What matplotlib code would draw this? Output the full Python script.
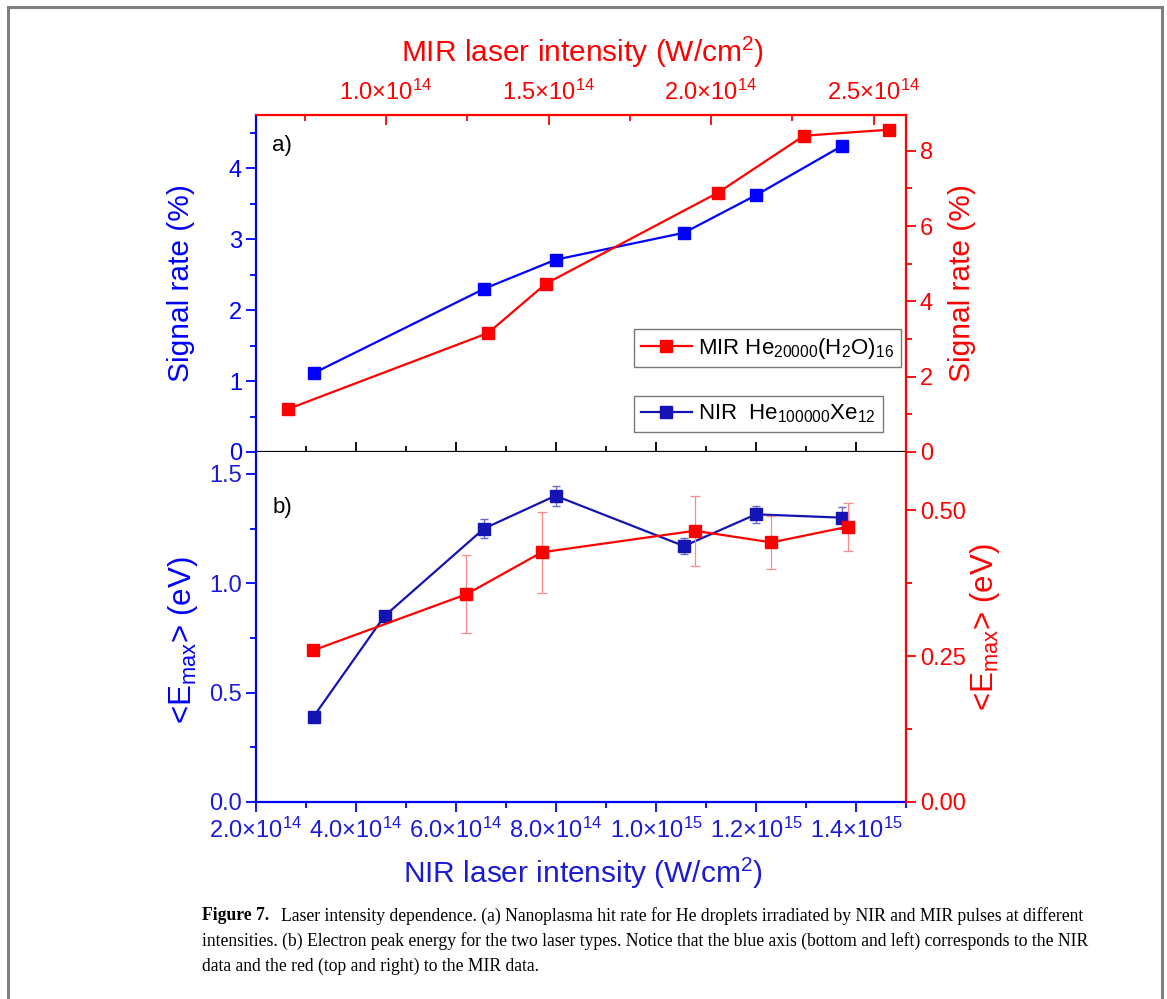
import numpy as np
import matplotlib
matplotlib.use("Agg")
import matplotlib.pyplot as plt
from matplotlib.patches import Rectangle
from matplotlib.lines import Line2D
from matplotlib.ticker import MultipleLocator, FuncFormatter, FormatStrFormatter

# ---------------- data ----------------
# panel a) signal rate
nir_a_x = [3.15e14, 6.56e14, 7.99e14, 1.056e15, 1.200e15, 1.371e15]
nir_a_y = [1.11, 2.30, 2.71, 3.09, 3.62, 4.31]
mir_a_x = [0.698e14, 1.314e14, 1.492e14, 2.022e14, 2.286e14, 2.548e14]
mir_a_y = [1.14, 3.16, 4.47, 6.89, 8.40, 8.56]
# panel b) electron peak energy
nir_b_x = [3.15e14, 4.57e14, 6.56e14, 7.99e14, 1.056e15, 1.200e15, 1.371e15]
nir_b_y = [0.39, 0.85, 1.25, 1.40, 1.17, 1.315, 1.30]
nir_b_err = [0.02, 0.023, 0.045, 0.045, 0.035, 0.04, 0.05]
mir_b_x = [0.776e14, 1.247e14, 1.479e14, 1.950e14, 2.186e14, 2.422e14]
mir_b_y = [0.260, 0.356, 0.428, 0.465, 0.445, 0.472]
mir_b_err = [0.0, 0.067, 0.069, 0.060, 0.046, 0.041]

legend_mir = r"MIR He$_{20000}$(H$_2$O)$_{16}$"
legend_nir = r"NIR  He$_{100000}$Xe$_{12}$"
caption_bold = "Figure 7."
caption_lines = [
    "Laser intensity dependence. (a) Nanoplasma hit rate for He droplets irradiated by NIR and MIR pulses at different",
    "intensities. (b) Electron peak energy for the two laser types. Notice that the blue axis (bottom and left) corresponds to the NIR",
    "data and the red (top and right) to the MIR data.",
]

# ---------------- style ----------------
plt.rcParams["font.family"] = ["Liberation Sans", "DejaVu Sans"]
plt.rcParams["mathtext.fontset"] = "custom"
plt.rcParams["mathtext.rm"] = "Liberation Sans"
plt.rcParams["mathtext.it"] = "Liberation Sans:italic"
plt.rcParams["mathtext.bf"] = "Liberation Sans:bold"
plt.rcParams["mathtext.default"] = "regular"

BLUE = "#0000ff"
BLUE_D = "#1414b4"
BLUE_T = "#1a1ad8"
RED = "#ff0000"
W, H = 1167, 999
fig = plt.figure(figsize=(W / 100, H / 100), dpi=100)

def px(x0, y0, x1, y1):
    return [x0 / W, 1 - y1 / H, (x1 - x0) / W, (y1 - y0) / H]

rectA = px(256, 115, 906, 452)
rectB = px(256, 452, 906, 802)

TL = 17
def sci(v, pos):
    if v <= 0:
        return ""
    e = int(np.floor(np.log10(v) + 1e-9))
    m = v / 10 ** e
    return r"$%.1f{\times}10^{%d}$" % (m, e)

SPW = 1.6
# ---------- panel a ----------
axA = fig.add_axes(rectA)
axA.set_xlim(2e14, 1.5e15)
axA.set_ylim(0, 4.75)
axA.plot(nir_a_x, nir_a_y, color=BLUE, lw=1.6, marker="s", ms=8, zorder=3)
for s in ("top", "right"):
    axA.spines[s].set_visible(False)
axA.spines["left"].set_color(BLUE)
axA.spines["bottom"].set_color("black")
for s in ("left", "bottom"):
    axA.spines[s].set_linewidth(SPW)
axA.xaxis.set_major_locator(MultipleLocator(2e14))
axA.xaxis.set_minor_locator(MultipleLocator(1e14))
axA.tick_params(axis="x", which="both", direction="in", colors="black", labelbottom=False,
                length=7, width=1.3)
axA.tick_params(axis="x", which="minor", length=4)
axA.yaxis.set_major_locator(MultipleLocator(1))
axA.yaxis.set_minor_locator(MultipleLocator(0.5))
axA.tick_params(axis="y", which="both", direction="out", colors=BLUE, labelsize=TL, width=1.3, pad=3)
axA.tick_params(axis="y", which="major", length=7)
axA.tick_params(axis="y", which="minor", length=4)
axA.text(0.025, 0.91, "a)", transform=axA.transAxes, fontsize=16, va="center", ha="left")

axAm = fig.add_axes(rectA, facecolor="none")
axAm.set_xlim(0.6e14, 2.6e14)
axAm.set_ylim(0, 8.95)
axAm.plot(mir_a_x, mir_a_y, color=RED, lw=1.6, marker="s", ms=8, zorder=3)
for s in ("left", "bottom"):
    axAm.spines[s].set_visible(False)
for s in ("top", "right"):
    axAm.spines[s].set_color(RED)
    axAm.spines[s].set_linewidth(SPW)
axAm.xaxis.tick_top()
axAm.yaxis.tick_right()
axAm.xaxis.set_major_locator(MultipleLocator(0.5e14))
axAm.xaxis.set_minor_locator(MultipleLocator(0.25e14))
axAm.xaxis.set_major_formatter(FuncFormatter(sci))
axAm.tick_params(axis="x", which="both", direction="in", colors=RED, labelsize=TL, width=1.3, pad=7)
axAm.tick_params(axis="x", which="major", length=7)
axAm.tick_params(axis="x", which="minor", length=4)
axAm.yaxis.set_major_locator(MultipleLocator(2))
axAm.yaxis.set_minor_locator(MultipleLocator(1))
axAm.tick_params(axis="y", which="both", direction="out", colors=RED, labelsize=TL, width=1.3, pad=3)
axAm.tick_params(axis="y", which="major", length=7)
axAm.tick_params(axis="y", which="minor", length=4)

# legends
hm = Line2D([], [], color=RED, lw=1.6, marker="s", ms=8)
hn = Line2D([], [], color=BLUE_D, lw=1.6, marker="s", ms=8)
legkw = dict(loc="upper left", bbox_transform=fig.transFigure, frameon=True, fancybox=False,
             edgecolor="#7a7a7a", fontsize=16, borderpad=0.3, handlelength=2.3,
             handletextpad=0.3, borderaxespad=0, numpoints=1, framealpha=1)
lg1 = fig.legend([hm], [legend_mir], bbox_to_anchor=(634 / W, 1 - 329 / H), **legkw)
lg2 = fig.legend([hn], [legend_nir], bbox_to_anchor=(634 / W, 1 - 396 / H), **legkw)
for lg in (lg1, lg2):
    lg.get_frame().set_linewidth(1.0)

# ---------- panel b ----------
axB = fig.add_axes(rectB)
axB.set_xlim(2e14, 1.5e15)
axB.set_ylim(0, 1.6)
axB.errorbar(nir_b_x, nir_b_y, yerr=nir_b_err, fmt="none", ecolor="#6a6ad0", elinewidth=1.0,
             capsize=3, capthick=1.0, zorder=2)
axB.plot(nir_b_x, nir_b_y, color=BLUE_D, lw=1.6, marker="s", ms=8.5, zorder=3)
for s in ("top", "right"):
    axB.spines[s].set_visible(False)
for s in ("left", "bottom"):
    axB.spines[s].set_color(BLUE)
    axB.spines[s].set_linewidth(SPW)
axB.xaxis.set_major_locator(MultipleLocator(2e14))
axB.xaxis.set_minor_locator(MultipleLocator(1e14))
axB.xaxis.set_major_formatter(FuncFormatter(sci))
axB.tick_params(axis="x", which="both", direction="out", colors=BLUE, labelcolor=BLUE_T,
                labelsize=TL, width=1.3, pad=4)
axB.tick_params(axis="x", which="major", length=7)
axB.tick_params(axis="x", which="minor", length=4)
axB.yaxis.set_major_locator(MultipleLocator(0.5))
axB.yaxis.set_minor_locator(MultipleLocator(0.25))
axB.yaxis.set_major_formatter(FormatStrFormatter("%.1f"))
axB.tick_params(axis="y", which="both", direction="out", colors=BLUE, labelcolor=BLUE_T,
                labelsize=TL, width=1.3, pad=3)
axB.tick_params(axis="y", which="major", length=7)
axB.tick_params(axis="y", which="minor", length=4)
axB.text(0.025, 0.84, "b)", transform=axB.transAxes, fontsize=16, va="center", ha="left")

axBm = fig.add_axes(rectB, facecolor="none")
axBm.set_xlim(0.6e14, 2.6e14)
axBm.set_ylim(0, 0.6)
axBm.errorbar(mir_b_x, mir_b_y, yerr=mir_b_err, fmt="none", ecolor="#ff8a8a", elinewidth=0.9,
              capsize=3.5, capthick=0.9, zorder=2)
axBm.plot(mir_b_x, mir_b_y, color=RED, lw=1.6, marker="s", ms=8.5, zorder=3)
for s in ("left", "bottom", "top"):
    axBm.spines[s].set_visible(False)
axBm.spines["right"].set_color(RED)
axBm.spines["right"].set_linewidth(SPW)
axBm.tick_params(axis="x", which="both", bottom=False, top=False, labelbottom=False, labeltop=False)
axBm.yaxis.tick_right()
axBm.yaxis.set_major_locator(MultipleLocator(0.25))
axBm.yaxis.set_minor_locator(MultipleLocator(0.125))
axBm.yaxis.set_major_formatter(FormatStrFormatter("%.2f"))
axBm.tick_params(axis="y", which="both", direction="out", colors=RED, labelsize=TL, width=1.3, pad=3)
axBm.tick_params(axis="y", which="major", length=7)
axBm.tick_params(axis="y", which="minor", length=4)

# ---------- axis titles ----------
AL = 21.5
fig.text(583 / W, 1 - 52 / H, r"MIR laser intensity (W/cm$^2$)", color=RED, fontsize=AL,
         ha="center", va="center")
fig.text(583 / W, 1 - 873 / H, r"NIR laser intensity (W/cm$^2$)", color=BLUE_T, fontsize=AL,
         ha="center", va="center")
fig.text(181 / W, 1 - 283 / H, "Signal rate (%)", color=BLUE, fontsize=AL, rotation=90,
         ha="center", va="center")
fig.text(962 / W, 1 - 283 / H, "Signal rate (%)", color=RED, fontsize=AL, rotation=90,
         ha="center", va="center")
fig.text(183 / W, 1 - 640 / H, r"<E$_{max}$> (eV)", color=BLUE, fontsize=22.5, rotation=90,
         ha="center", va="center")
fig.text(985 / W, 1 - 627 / H, r"<E$_{max}$> (eV)", color=RED, fontsize=22.5, rotation=90,
         ha="center", va="center")

# ---------- frame around figure ----------
fig.add_artist(Rectangle((8 / W, 1 - 1010 / H), (1162 - 8) / W, (1010 - 7) / H,
                         transform=fig.transFigure, fill=False, edgecolor="#7f7f7f",
                         linewidth=2.2, clip_on=False))

# ---------- caption ----------
serif = ["Liberation Serif", "DejaVu Serif"]
renderer = fig.canvas.get_renderer()
base = 12.0
tb = fig.text(202 / W, 1 - 916 / H, caption_bold, family=serif, fontweight="bold",
              fontsize=base, va="center", ha="left")
tr = fig.text(0, 0, caption_lines[0], family=serif, fontsize=base, va="center", ha="left")
wb = tb.get_window_extent(renderer).width
wr = tr.get_window_extent(renderer).width
gap_rel = 0.7  # gap as fraction of font px
target = 1085 - 202
scale = target / (wb + wr + gap_rel * base * 100 / 72)
fs = base * scale
tb.set_fontsize(fs)
wb = tb.get_window_extent(renderer).width
tr.set_fontsize(fs)
tr.set_position(((202 + wb + gap_rel * fs * 100 / 72) / W, 1 - 916 / H))
fig.text(202 / W, 1 - 941 / H, caption_lines[1], family=serif, fontsize=fs, va="center", ha="left")
fig.text(202 / W, 1 - 966 / H, caption_lines[2], family=serif, fontsize=fs, va="center", ha="left")

fig.savefig("out.png", dpi=100)
